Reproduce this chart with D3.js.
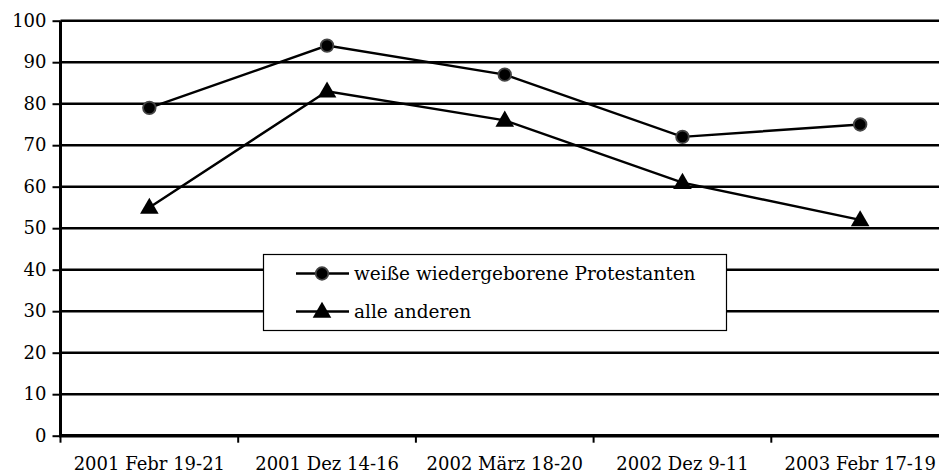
<!DOCTYPE html>
<html><head><meta charset="utf-8">
<script src="https://cdn.jsdelivr.net/npm/d3@7"></script>
<style>body{margin:0;background:#fff}svg{display:block}text{font-family:"DejaVu Serif",serif;fill:#000}</style>
</head><body><svg id="c" width="939" height="474"></svg>
<script>
const categories = ["2001 Febr 19-21","2001 Dez 14-16","2002 März 18-20","2002 Dez 9-11","2003 Febr 17-19"];
const seriesNames = ["weiße wiedergeborene Protestanten","alle anderen"];
const protestanten = [79,94,87,72,75];
const andere = [55,83,76,61,52];
const yTicks = [0,10,20,30,40,50,60,70,80,90,100];

const svg = d3.select("#c");
const pLeft = 60.5, pRight = 949, pTop = 20.7, pBottom = 435.7;
const x = d3.scaleBand().domain(categories).range([pLeft, pRight]);
const y = d3.scaleLinear().domain([0,100]).range([pBottom, pTop]);

// gridlines
svg.append("g").selectAll("line").data(yTicks.filter(d=>d>0)).join("line")
  .attr("x1", pLeft).attr("x2", pRight).attr("y1", d=>y(d)).attr("y2", d=>y(d))
  .attr("stroke","#000").attr("stroke-width",2.4);

// y axis
const ya = svg.append("g").attr("transform",`translate(${pLeft},0)`)
  .call(d3.axisLeft(y).tickValues(yTicks).tickSize(8).tickPadding(6));
ya.select(".domain").attr("stroke","#000").attr("stroke-width",3).attr("d",`M0,${pTop}V${pBottom}`);
ya.selectAll(".tick line").attr("stroke","#000").attr("stroke-width",2);
ya.selectAll(".tick text").attr("font-size",18).attr("font-family","DejaVu Serif").attr("fill","#000");

// x axis
const xa = svg.append("g").attr("transform",`translate(0,${pBottom})`)
  .call(d3.axisBottom(x).tickSize(0).tickPadding(22));
xa.select(".domain").remove();
xa.selectAll(".tick text").attr("font-size",18).attr("font-family","DejaVu Serif").attr("fill","#000");
svg.append("line").attr("x1",pLeft-1.5).attr("x2",pRight).attr("y1",pBottom).attr("y2",pBottom)
  .attr("stroke","#000").attr("stroke-width",3.5);
svg.append("g").selectAll("line").data(categories).join("line")
  .attr("x1",d=>x(d)).attr("x2",d=>x(d)).attr("y1",pBottom).attr("y2",pBottom+7)
  .attr("stroke","#000").attr("stroke-width",2);

const line = d3.line().x((d,i)=>x(categories[i])+x.bandwidth()/2).y(d=>y(d));
const tri = d3.symbol().type(d3.symbolTriangle).size(150);

function drawSeries(vals, marker){
  svg.append("path").attr("d", line(vals)).attr("fill","none").attr("stroke","#000").attr("stroke-width",2.4);
  const g = svg.append("g");
  vals.forEach((v,i)=>{
    const cx = x(categories[i])+x.bandwidth()/2, cy = y(v);
    if(marker==="circle") g.append("circle").attr("cx",cx).attr("cy",cy).attr("r",6.3).attr("fill","#000").attr("stroke","#444").attr("stroke-width",1.8);
    else g.append("path").attr("d",tri()).attr("transform",`translate(${cx},${cy+1})`).attr("fill","#000");
  });
}
drawSeries(protestanten,"circle");
drawSeries(andere,"triangle");

// legend
const lg = svg.append("g");
lg.append("rect").attr("x",263.5).attr("y",254.5).attr("width",463).attr("height",76).attr("fill","#fff").attr("stroke","#000").attr("stroke-width",1.2);
const ly = [273.5, 311.5];
seriesNames.forEach((n,i)=>{
  lg.append("line").attr("x1",296).attr("x2",349).attr("y1",ly[i]).attr("y2",ly[i]).attr("stroke","#000").attr("stroke-width",2.4);
  if(i===0) lg.append("circle").attr("cx",322).attr("cy",ly[i]).attr("r",6.3).attr("fill","#000").attr("stroke","#444").attr("stroke-width",1.8);
  else lg.append("path").attr("d",tri()).attr("transform",`translate(322,${ly[i]+1})`).attr("fill","#000");
  lg.append("text").attr("x",354).attr("y",ly[i]+6).attr("font-size",18.5).text(n);
});
</script></body></html>
